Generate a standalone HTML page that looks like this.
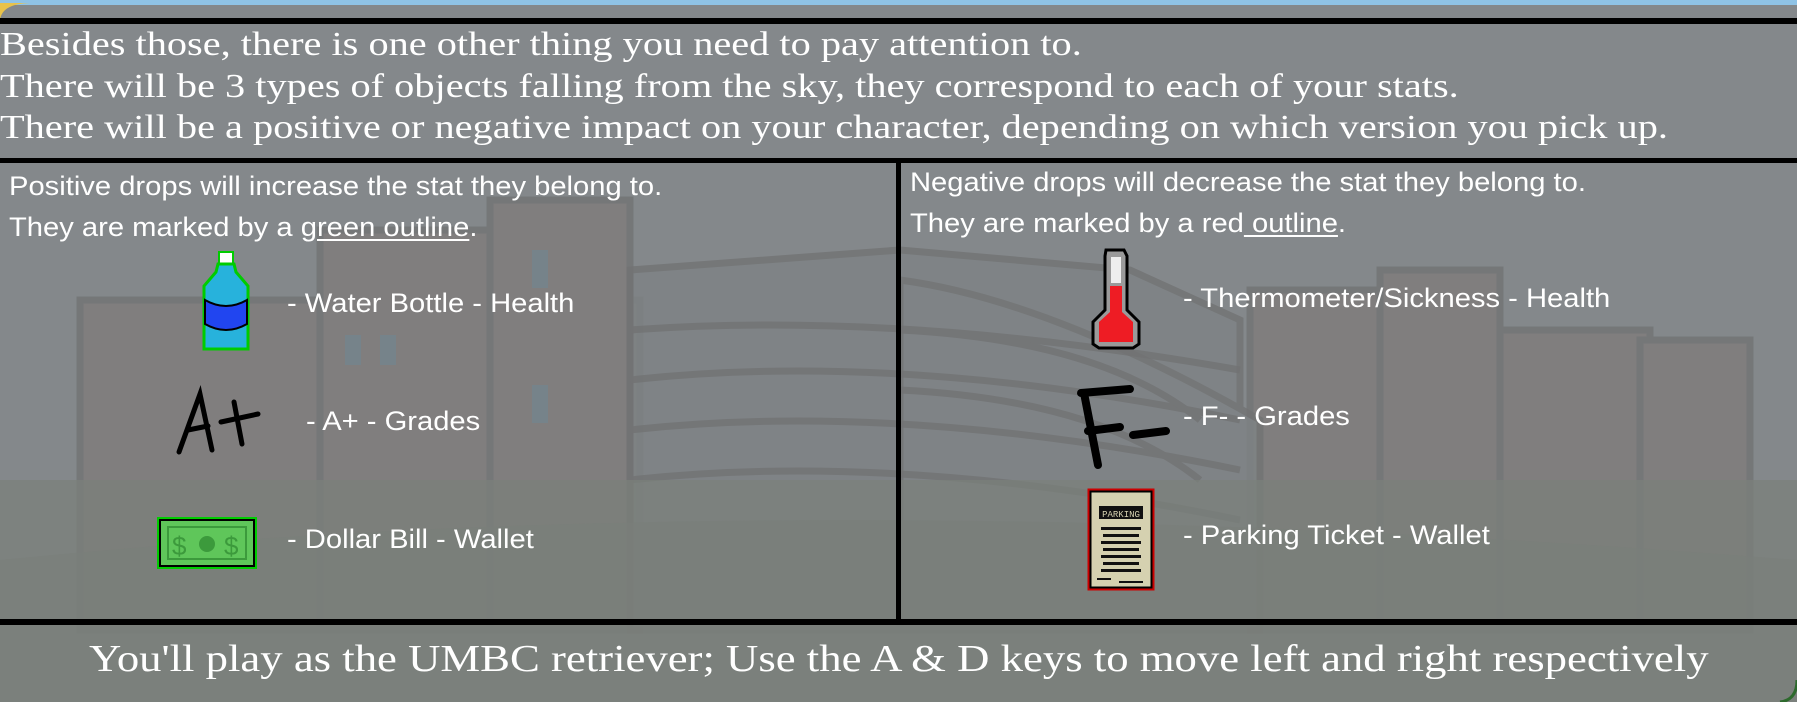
<!DOCTYPE html>
<html><head><meta charset="utf-8">
<style>
html,body{margin:0;padding:0;}
body{width:1797px;height:702px;overflow:hidden;position:relative;background:#84888b;font-family:"Liberation Sans",sans-serif;color:#fff;}
.abs{position:absolute;white-space:nowrap;}
.serif{font-family:"Liberation Serif",serif;}
.top{left:0;font-size:34px;line-height:38px;transform:scaleX(1.186);transform-origin:0 0;}
.sans{font-size:27px;line-height:30px;transform:scaleX(1.08);transform-origin:0 0;}
u{text-decoration:underline;text-underline-offset:3px;}
</style></head><body>
<svg class="abs" style="left:0;top:0" width="1797" height="702">
  <rect x="0" y="0" width="1797" height="702" fill="#84888b"/>
  <rect x="0" y="0" width="1797" height="5" fill="#8fc3e6"/>
  <path d="M0 22 Q0 4 30 3 L0 3Z" fill="#e8c24a"/>
  <g fill="#807c7b" stroke="#727374" stroke-width="7" opacity=".8">
    <rect x="80" y="300" width="560" height="330"/>
    <rect x="320" y="230" width="300" height="400"/>
    <rect x="490" y="200" width="140" height="430"/>
    <rect x="1250" y="290" width="140" height="340"/>
    <rect x="1380" y="270" width="120" height="360"/>
    <rect x="1500" y="330" width="150" height="300"/>
    <rect x="1640" y="340" width="110" height="290"/>
  </g>
  <g fill="#7e8385" stroke="#727374" stroke-width="7" opacity=".8">
    <path d="M630 270 L900 250 L1130 270 L1240 320 L1240 630 L630 630Z"/>
    <path d="M900 280 Q1050 300 1260 420 L1260 630 L900 630Z"/>
  </g>
  <g stroke="#727374" stroke-width="7" fill="none" opacity=".8">
    <path d="M630 330 Q900 310 1240 370"/><path d="M630 380 Q900 350 1240 420"/>
    <path d="M630 430 Q900 400 1240 470"/><path d="M630 480 Q900 450 1240 520"/>
    <path d="M900 330 Q1100 340 1200 420"/><path d="M900 390 Q1100 400 1200 480"/>
  </g>
  <g fill="#76838a">
    <rect x="345" y="335" width="16" height="30"/><rect x="380" y="335" width="16" height="30"/>
    <rect x="532" y="250" width="16" height="38"/><rect x="532" y="385" width="16" height="38"/>
  </g>
  <rect x="0" y="480" width="1797" height="222" fill="#7b807a" opacity=".7"/>
  <path d="M0 560 Q800 480 1797 560 L1797 702 L0 702Z" fill="#7a7e79" opacity=".6"/>
  <rect x="0" y="18" width="1797" height="6" fill="#000"/>
  <rect x="0" y="158" width="1797" height="5" fill="#000"/>
  <rect x="896" y="160" width="5" height="464" fill="#000"/>
  <rect x="0" y="619" width="1797" height="6" fill="#000"/>
  <path d="M1780 702 Q1797 700 1797 680" stroke="#2d6a2d" stroke-width="3" fill="none"/>

  <g transform="translate(202,252)" stroke="#000" stroke-width="2">
    <rect x="17" y="0" width="14" height="12" fill="#fff" stroke="#0c0"/>
    <path d="M16 12 L32 12 L34 20 L46 34 L46 97 L2 97 L2 34 L14 20Z" fill="#27b2dc" stroke="#0c0" stroke-width="3"/>
    <path d="M3 48 Q24 60 45 48 L45 72 Q24 84 3 72Z" fill="#2145f0"/>
  </g>
  <g transform="translate(176,392)" stroke="#000" stroke-width="5" fill="none" stroke-linecap="round">
    <path d="M3 60 L24 2 L36 58" /><path d="M12 38 L32 34"/>
    <path d="M45 30 L82 22"/><path d="M58 10 L66 52"/>
  </g>
  <g transform="translate(158,518)">
    <rect x="0" y="0" width="98" height="50" fill="#000" stroke="#0c0" stroke-width="2"/>
    <rect x="3" y="3" width="92" height="44" fill="#5fc65a"/>
    <rect x="10" y="9" width="78" height="32" fill="none" stroke="#3c9a3c" stroke-width="2"/>
    <text x="14" y="37" font-family="Liberation Sans" font-size="26" fill="#3c9a3c">$</text>
    <text x="66" y="37" font-family="Liberation Sans" font-size="26" fill="#3c9a3c">$</text>
    <circle cx="49" cy="26" r="8" fill="#3c9a3c"/>
  </g>
  <g transform="translate(1089,248)">
    <path d="M17 2 L35 2 L38 8 L38 62 L50 74 L50 96 L44 100 L10 100 L4 96 L4 74 L16 62 L16 8Z" fill="#9a9a9a" stroke="#000" stroke-width="3"/>
    <path d="M10 74 L21 64 L21 38 L33 38 L33 64 L44 74 L44 94 L10 94Z" fill="#ee1c24"/>
    <rect x="22" y="9" width="10" height="26" fill="#eee"/>
  </g>
  <g transform="translate(1078,385)" stroke="#000" stroke-width="8" fill="none" stroke-linecap="round">
    <path d="M3 8 L52 4"/><path d="M6 8 L20 80"/><path d="M10 46 L42 42"/><path d="M55 50 L88 46" />
  </g>
  <g transform="translate(1089,490)">
    <rect x="0" y="0" width="64" height="99" fill="#d5d1b0" stroke="#c00" stroke-width="3"/>
    <rect x="1.5" y="1.5" width="61" height="96" fill="none" stroke="#000" stroke-width="2"/>
    <rect x="10" y="16" width="44" height="13" fill="#111"/>
    <text x="32" y="27" font-family="Liberation Mono" font-size="9" fill="#d5d1b0" text-anchor="middle">PARKING</text>
    <g fill="#111">
      <rect x="12" y="37" width="40" height="3"/><rect x="14" y="44" width="36" height="3"/><rect x="12" y="51" width="40" height="3"/>
      <rect x="14" y="58" width="36" height="3"/><rect x="12" y="65" width="40" height="3"/><rect x="14" y="72" width="36" height="3"/>
      <rect x="12" y="79" width="40" height="3"/><rect x="8" y="88" width="14" height="2"/><rect x="30" y="91" width="24" height="2"/>
    </g>
  </g>
</svg>

<div class="abs serif top" style="top:26px">Besides those, there is one other thing you need to pay attention to.</div>
<div class="abs serif top" style="top:68px">There will be 3 types of objects falling from the sky, they correspond to each of your stats.</div>
<div class="abs serif top" style="top:109px">There will be a positive or negative impact on your character, depending on which version you pick up.</div>

<div class="abs sans" style="left:9px;top:171px">Positive drops will increase the stat they belong to.</div>
<div class="abs sans" style="left:9px;top:212px">They are marked by a <u>green outline</u>.</div>
<div class="abs sans" style="left:910px;top:167px">Negative drops will decrease the stat they belong to.</div>
<div class="abs sans" style="left:910px;top:208px">They are marked by a red<u> outline</u>.</div>

<div class="abs sans" style="left:287px;top:288px">- Water Bottle - Health</div>
<div class="abs sans" style="left:306px;top:406px">- A+ - Grades</div>
<div class="abs sans" style="left:287px;top:524px">- Dollar Bill - Wallet</div>
<div class="abs sans" style="left:1183px;top:283px">- Thermometer/Sickness - Health</div>
<div class="abs sans" style="left:1183px;top:401px">- F- - Grades</div>
<div class="abs sans" style="left:1183px;top:520px">- Parking Ticket - Wallet</div>

<div class="abs serif" style="left:89px;top:637px;font-size:38px;line-height:44px;transform:scaleX(1.177);transform-origin:0 0">You'll play as the UMBC retriever; Use the A &amp; D keys to move left and right respectively</div>
</body></html>
